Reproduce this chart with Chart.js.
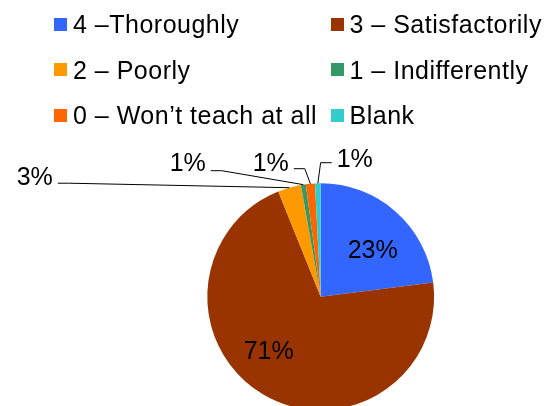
<!DOCTYPE html>
<html><head><meta charset="utf-8">
<script src="https://cdn.jsdelivr.net/npm/chart.js"></script>
<style>
html,body{margin:0;padding:0;background:#fff;width:548px;height:406px;overflow:hidden;position:relative;font-family:"Liberation Sans",Arial,sans-serif;}
canvas{position:absolute;left:0;top:0;}
#legend{position:absolute;left:0;top:0;width:548px;height:140px;}
.item{position:absolute;display:flex;align-items:center;font-size:25px;line-height:28px;height:28px;color:#000;white-space:nowrap;letter-spacing:0.5px;}
.sw{width:13px;height:13px;margin-right:6px;flex:none;}
</style></head><body>
<canvas id="c" width="548" height="420"></canvas>
<div id="legend"></div>
<script>
// ---- data ----
const categories = ["4 –Thoroughly", "3 – Satisfactorily", "2 – Poorly", "1 – Indifferently", "0 – Won’t teach at all", "Blank"];
const values = [23.0, 70.9, 3.3, 0.7, 1.3, 0.8];
const colors = ["#3366FF", "#993300", "#FF9900", "#339966", "#FF6600", "#33CCCC"];

// ---- layout (label placement relative to pie centre) ----
const labelLayout = [
  {dx: 52, dy: -47, inside: true},
  {dx: -52, dy: 54, inside: true},
  {dx: -286, dy: -120, lineDy: 6.5},
  {dx: -133, dy: -134, lineDy: 8},
  {dx: -50, dy: -134, lineDy: 6},
  {dx: 34, dy: -138, lineDy: 4}
];
const legendCols = [54, 330.5];
const legendRows = [24, 69.5, 115];

// ---- legend (HTML) ----
const leg = document.getElementById('legend');
categories.forEach((name, i) => {
  const d = document.createElement('div');
  d.className = 'item';
  d.style.left = legendCols[i % 2] + 'px';
  d.style.top = (legendRows[Math.floor(i / 2)] - 14) + 'px';
  const s = document.createElement('span');
  s.className = 'sw';
  s.style.background = colors[i];
  const t = document.createElement('span');
  t.textContent = name;
  d.appendChild(s); d.appendChild(t);
  leg.appendChild(d);
});

const total = values.reduce((a, b) => a + b, 0);

const labelPlugin = {
  id: 'pctLabels',
  afterDatasetsDraw(chart) {
    const ctx = chart.ctx;
    const meta = chart.getDatasetMeta(0);
    ctx.save();
    ctx.font = '25px "Liberation Sans", Arial, sans-serif';
    ctx.fillStyle = '#000';
    ctx.strokeStyle = '#000';
    ctx.lineWidth = 1;
    ctx.textAlign = 'center';
    ctx.textBaseline = 'middle';
    meta.data.forEach((arc, i) => {
      const p = arc.getProps(['startAngle', 'endAngle', 'x', 'y', 'outerRadius'], true);
      const lay = labelLayout[i];
      const txt = Math.round(values[i] / total * 100) + '%';
      const lx = p.x + lay.dx, ly = p.y + lay.dy;
      ctx.fillText(txt, lx, ly + 1);
      if (!lay.inside) {
        const mid = (p.startAngle + p.endAngle) / 2;
        const ax = p.x + Math.cos(mid) * p.outerRadius;
        const ay = p.y + Math.sin(mid) * p.outerRadius;
        const hw = ctx.measureText(txt).width / 2;
        const dir = ax > lx ? 1 : -1;
        const sx = lx + dir * (hw + 5);
        const sy = ly + lay.lineDy;
        const ex = sx + dir * 11;
        ctx.beginPath();
        ctx.moveTo(sx, sy);
        ctx.lineTo(ex, sy);
        ctx.lineTo(ax, ay);
        ctx.stroke();
      }
    });
    ctx.restore();
  }
};

new Chart(document.getElementById('c'), {
  type: 'pie',
  data: {
    labels: categories,
    datasets: [{
      data: values,
      backgroundColor: colors,
      borderWidth: 0,
      hoverOffset: 0,
      offset: 0
    }]
  },
  options: {
    responsive: false,
    animation: false,
    devicePixelRatio: 1,
    events: [],
    layout: {padding: {left: 207.3, right: 113.9, top: 183.3, bottom: 9.9}},
    plugins: {legend: {display: false}, tooltip: {enabled: false}}
  },
  plugins: [labelPlugin]
});
</script>
</body></html>
